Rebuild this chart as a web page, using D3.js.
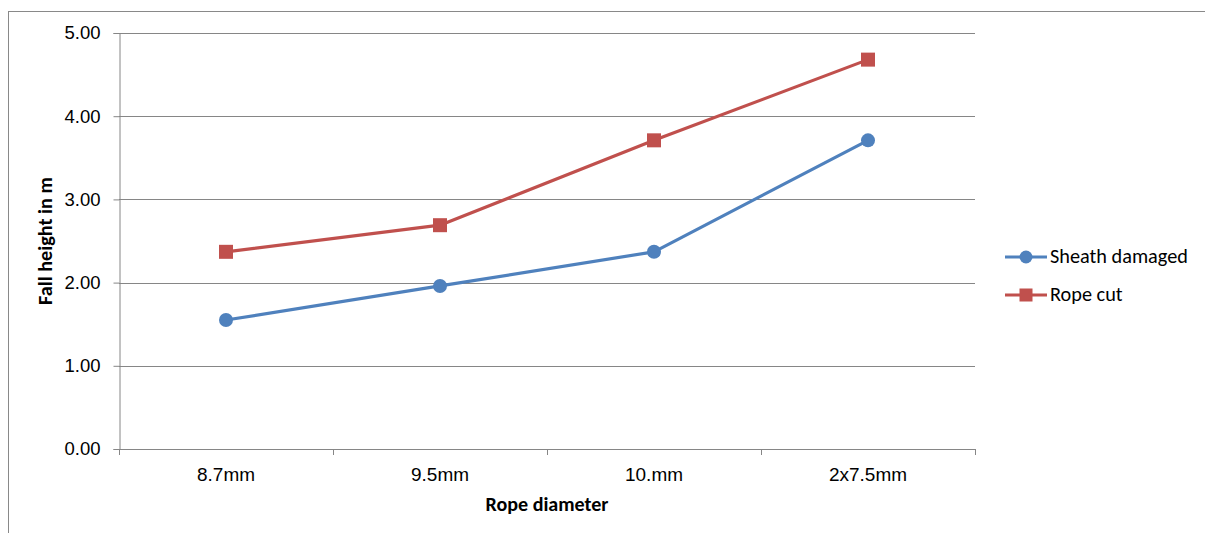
<!DOCTYPE html>
<html><head><meta charset="utf-8">
<script src="https://cdn.jsdelivr.net/npm/d3@7"></script>
<style>body{margin:0;background:#fff}svg{display:block;font-family:Carlito,Calibri,"Open Sans",sans-serif}</style>
</head><body><svg id="c" width="1205" height="533"></svg>
<script>
const categories = ["8.7mm","9.5mm","10.mm","2x7.5mm"];
const sheathDamaged = [1.55,1.96,2.37,3.71];
const ropeCut = [2.37,2.69,3.71,4.68];
const yTicks = [0,1,2,3,4,5];
const seriesNames = ["Sheath damaged","Rope cut"];
const colors = ["#4F81BD","#C0504D"];

const svg = d3.select("#c");
// fit font-size so text width matches target
function fit(sel, target){
  sel.style("font-size","100px");
  const w = sel.node().getComputedTextLength();
  sel.style("font-size",(100*target/w).toFixed(2)+"px");
}

svg.append("rect").attr("x",8.5).attr("y",11.5).attr("width",1205).attr("height",530)
  .attr("fill","none").attr("stroke","#898989").attr("stroke-width",1);

const L=119,R=975,T=33,B=449;
const x = d3.scaleBand().domain(categories).range([L,R]);
const y = d3.scaleLinear().domain([0,5]).range([B,T]);

svg.append("g").selectAll("line").data(yTicks.filter(d=>d>0)).join("line")
  .attr("x1",L).attr("x2",R).attr("y1",d=>Math.round(y(d))+0.5).attr("y2",d=>Math.round(y(d))+0.5)
  .attr("stroke","#868686").attr("stroke-width",1);

const yAxis = svg.append("g").attr("transform",`translate(${L+0.5},0)`)
  .call(d3.axisLeft(y).tickValues(yTicks).tickFormat(d3.format(".2f")).tickSize(6).tickPadding(13));
const xAxis = svg.append("g").attr("transform",`translate(0,${B+0.5})`)
  .call(d3.axisBottom(x).tickSize(0).tickPadding(18));
svg.append("g").selectAll("line").data(d3.range(categories.length+1)).join("line")
  .attr("x1",i=>Math.round(L+i*x.step())+0.5).attr("x2",i=>Math.round(L+i*x.step())+0.5)
  .attr("y1",B).attr("y2",B+6).attr("stroke","#868686");
[yAxis,xAxis].forEach(g=>{
  g.selectAll("path,line").attr("stroke","#868686");
  g.selectAll("text").attr("fill","#000").style("font-family","inherit");
});
yAxis.selectAll(".tick text").style("font-size","10px");
const yt = yAxis.select(".tick:last-child text"); fit(yt,36);
const yfs = yt.style("font-size");
yAxis.selectAll(".tick text").style("font-size",yfs);
const xt = xAxis.select(".tick text"); fit(xt,58);
xAxis.selectAll(".tick text").style("font-size",xt.style("font-size"));
xAxis.select(".domain").attr("d",`M${L},0H${R}`);

const yl = svg.append("text").attr("transform","translate(52,241) rotate(-90)").attr("text-anchor","middle")
  .style("font-weight","bold").text("Fall height in m");
fit(yl,128);
const xl = svg.append("text").attr("x",547).attr("y",511).attr("text-anchor","middle")
  .style("font-weight","bold").text("Rope diameter");
fit(xl,123);

const cx = d=>x(d)+x.bandwidth()/2;
const series=[sheathDamaged,ropeCut];
const line = d3.line().x((d,i)=>cx(categories[i])).y(d=>y(d));
series.forEach((s,k)=>{
  svg.append("path").datum(s).attr("d",line).attr("fill","none")
    .attr("stroke",colors[k]).attr("stroke-width",3.2).attr("stroke-linejoin","round");
  const g=svg.append("g");
  if(k===0){
    g.selectAll("circle").data(s).join("circle").attr("cx",(d,i)=>cx(categories[i])).attr("cy",d=>y(d))
      .attr("r",7).attr("fill",colors[k]);
  } else {
    g.selectAll("rect").data(s).join("rect").attr("x",(d,i)=>cx(categories[i])-7).attr("y",d=>y(d)-7)
      .attr("width",14).attr("height",14).attr("fill",colors[k]);
  }
});

const lg = svg.append("g");
seriesNames.forEach((n,k)=>{
  const yy = 257 + k*38;
  lg.append("line").attr("x1",1005).attr("x2",1047).attr("y1",yy).attr("y2",yy)
    .attr("stroke",colors[k]).attr("stroke-width",3.2);
  if(k===0) lg.append("circle").attr("cx",1026).attr("cy",yy).attr("r",6.5).attr("fill",colors[k]);
  else lg.append("rect").attr("x",1019.5).attr("y",yy-6.5).attr("width",13).attr("height",13).attr("fill",colors[k]);
  const t = lg.append("text").attr("x",1050).attr("y",yy+6).text(n);
  if(k===0) fit(t,138);
});
lg.selectAll("text").style("font-size",lg.select("text").style("font-size"));
</script></body></html>
